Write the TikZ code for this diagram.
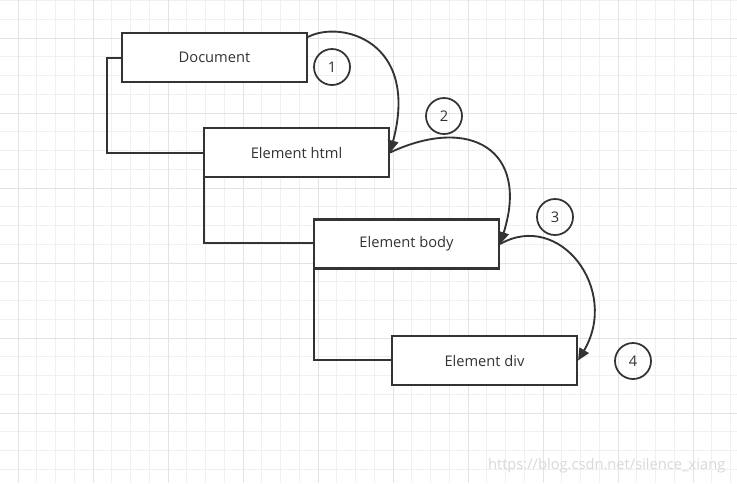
\documentclass[tikz,border=0pt]{standalone}
\usepackage{fontspec}
\setmainfont{Open Sans}
\usetikzlibrary{arrows.meta}
\begin{document}
\begin{tikzpicture}[x=0.75pt,y=-0.75pt,
  box/.style={draw=black!80,line width=1.6pt,fill=white,minimum width=185*0.75pt,minimum height=49*0.75pt,inner sep=0pt,font=\fontsize{11}{13}\selectfont,text=black!80},
  num/.style={circle,draw=black!80,line width=1.3pt,minimum size=36*0.75pt,inner sep=0pt,font=\fontsize{11}{13}\selectfont,text=black!80},
  tree/.style={draw=black!80,line width=1.4pt},
  arr/.style={draw=black!80,line width=1.4pt,-{Triangle[length=9pt,width=8pt]}}]
\useasboundingbox (0,0) rectangle (737,483);
\fill[white] (0,0) rectangle (737,483);
\foreach \i in {0,...,40} {\draw[black!6,line width=0.5pt] (\i*18.75-0.75,0) -- (\i*18.75-0.75,483);}
\foreach \i in {0,...,26} {\draw[black!6,line width=0.5pt] (0,\i*18.75+0.5) -- (737,\i*18.75+0.5);}
\foreach \i in {0,...,10} {\draw[black!11,line width=0.6pt] (18+\i*75,0) -- (18+\i*75,483);}
\foreach \i in {0,...,7} {\draw[black!11,line width=0.6pt] (0,38+\i*75) -- (737,38+\i*75);}
\coordinate (t1) at (107,58);
\coordinate (t2) at (107,153);
\coordinate (t3) at (204,243);
\coordinate (t4) at (314,360);
\draw[tree] (122,58) -- (t1) -- (t2) -- (204,153);
\draw[tree] (204,177) -- (t3) -- (314,243);
\draw[tree] (314,268) -- (t4) -- (392,360);
\node[box] (doc) at (214.5,57.5) {Document};
\node[box] (html) at (296.5,152.5) {Element html};
\node[box] (body) at (406.5,244) {Element body};
\node[box] (div) at (484.5,360.5) {Element div};
\node[num] (n1) at (332,67) {1};
\node[num] (n2) at (444,116) {2};
\node[num] (n3) at (555,217) {3};
\node[num] (n4) at (633,361) {4};
\draw[arr] (doc.north east) ++(0,5) .. controls (340,20) and (420,40) .. (html.east);
\draw[arr] (html.east) .. controls (470,115) and (530,150) .. (body.east);
\draw[arr] (body.east) .. controls (560,210) and (620,290) .. (div.east);
\node[text=black!15,font=\fontsize{11}{13}\selectfont,anchor=east] (wm) at (730,466) {https://blog.csdn.net/silence\_xiang};
\end{tikzpicture}
\end{document}
